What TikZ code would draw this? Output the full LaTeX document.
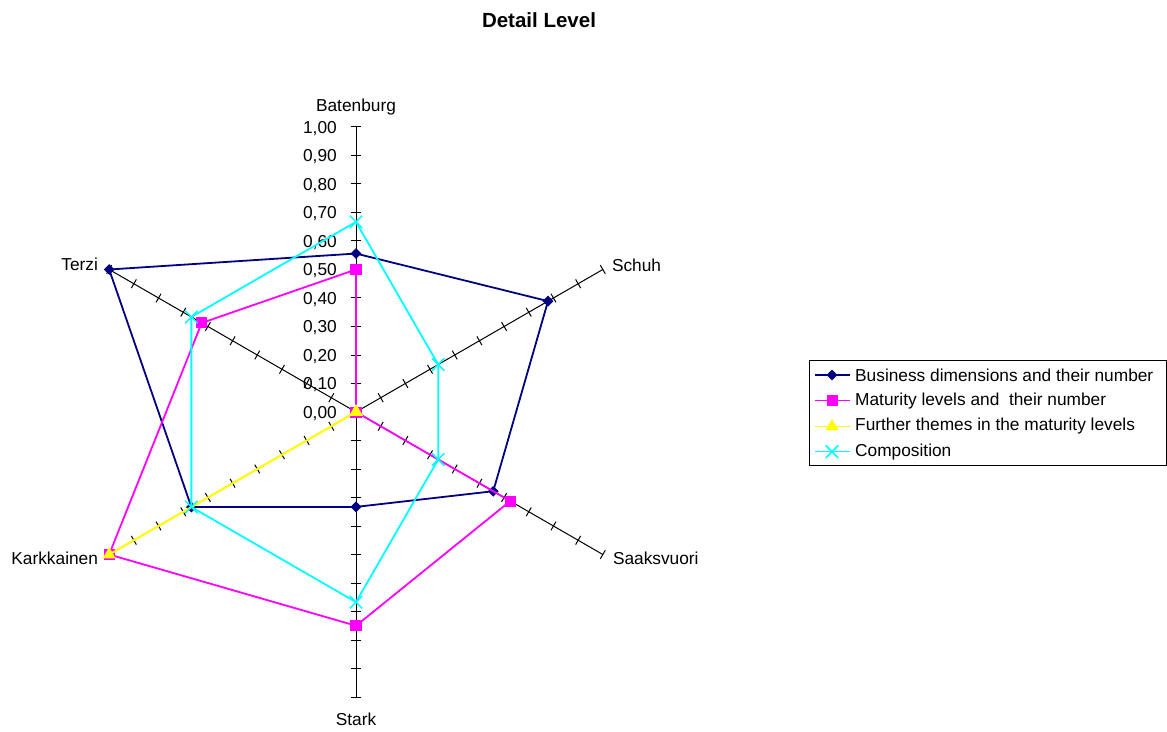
\documentclass[tikz,border=0pt]{standalone}
\usepackage{fontspec}
\setmainfont{Liberation Sans}
\usetikzlibrary{shapes.geometric,shapes.misc}
\usetikzlibrary{positioning}
\definecolor{seriesnavy}{RGB}{0,0,128}
\definecolor{seriesmagenta}{RGB}{255,0,255}
\definecolor{seriesyellow}{RGB}{255,255,0}
\definecolor{seriescyan}{RGB}{0,255,255}
\tikzset{
% text and axis styles
labeltext/.style={font=\fontsize{17.3}{20}\selectfont, inner sep=0},
axisline/.style={draw=black, line width=1pt},
% series lines and markers
bizline/.style={draw=seriesnavy, line width=1.8pt, line join=round},
matline/.style={draw=seriesmagenta, line width=1.8pt, line join=round},
furline/.style={draw=seriesyellow, line width=2pt, line join=round},
comline/.style={draw=seriescyan, line width=1.8pt, line join=round},
bizmark/.style={diamond, fill=seriesnavy, inner sep=0, minimum size=11pt},
matmark/.style={rectangle, fill=seriesmagenta, inner sep=0, minimum size=11pt},
furmark/.style={regular polygon, regular polygon sides=3, fill=seriesyellow, inner sep=0, minimum size=15pt},
commark/.style={cross out, draw=seriescyan, line width=1.5pt, inner sep=0, minimum size=11pt}
}

\begin{document}
\begin{tikzpicture}[x=1pt, y=1pt]
  \useasboundingbox (-356,-319) rectangle (811,412);
  \node[font=\bfseries\fontsize{20.5}{24}\selectfont, inner sep=0] (title) at (183,392) {Detail Level};

  % axes with ticks, radius 285
  \foreach \name [count=\i, evaluate=\i as \a using 150-60*\i] in {bat,schuh,saak,stark,kark,terzi} {
    \coordinate (\name-end) at (\a:285);
    \draw[axisline] (0,0) -- (\name-end);
    \foreach \t in {1,...,10}
      \draw[axisline] ([shift={({\a+90}:5)}]\a:{\t*28.5}) -- ([shift={({\a-90}:5)}]\a:{\t*28.5});
  }
  \coordinate (center) at (0,0);

  % axis names
  \node[labeltext, above=12pt of bat-end] (bat-label) {Batenburg};
  \node[labeltext, right=9pt of schuh-end, yshift=4pt] (schuh-label) {Schuh};
  \node[labeltext, right=10pt of saak-end, yshift=-4pt] (saak-label) {Saaksvuori};
  \node[labeltext, below=16pt of stark-end] (stark-label) {Stark};
  \node[labeltext, left=11pt of kark-end, yshift=-4pt] (kark-label) {Karkkainen};
  \node[labeltext, left=11pt of terzi-end, yshift=5pt] (terzi-label) {Terzi};

  % values on the Batenburg axis
  \foreach \t in {0,...,9}
    \node[labeltext, anchor=east, text depth=0pt] (val-\t) at (-19, \t*28.5) {0,\t0};
  \node[labeltext, anchor=east, text depth=0pt] (val-10) at (-19, 285) {1,00};

  % Business dimensions and their number
  \foreach \v [count=\i, evaluate=\i as \a using 150-60*\i] in {0.556, 0.778, 0.556, 0.333, 0.667, 1}
    \coordinate (biz-\i) at (\a:{\v*285});
  \draw[bizline] (biz-1) -- (biz-2) -- (biz-3) -- (biz-4) -- (biz-5) -- (biz-6) -- cycle;
  \foreach \i in {1,...,6}
    \node[bizmark] (biz-mark-\i) at (biz-\i) {};

  % Maturity levels and their number
  \foreach \v [count=\i, evaluate=\i as \a using 150-60*\i] in {0.5, 0, 0.625, 0.75, 1, 0.625}
    \coordinate (mat-\i) at (\a:{\v*285});
  \draw[matline] (mat-1) -- (mat-2) -- (mat-3) -- (mat-4) -- (mat-5) -- (mat-6) -- cycle;
  \foreach \i in {1,...,6}
    \node[matmark] (mat-mark-\i) at (mat-\i) {};

  % Further themes in the maturity levels
  \foreach \v [count=\i, evaluate=\i as \a using 150-60*\i] in {0, 0, 0, 0, 1, 0}
    \coordinate (fur-\i) at (\a:{\v*285});
  \draw[furline] (fur-1) -- (fur-2) -- (fur-3) -- (fur-4) -- (fur-5) -- (fur-6) -- cycle;
  \foreach \i in {1,...,6}
    \node[furmark] (fur-mark-\i) at (fur-\i) {};

  % Composition
  \foreach \v [count=\i, evaluate=\i as \a using 150-60*\i] in {0.667, 0.333, 0.333, 0.667, 0.667, 0.667}
    \coordinate (com-\i) at (\a:{\v*285});
  \draw[comline] (com-1) -- (com-2) -- (com-3) -- (com-4) -- (com-5) -- (com-6) -- cycle;
  \foreach \i in {1,...,6}
    \node[commark] (com-mark-\i) at (com-\i) {};

  % legend
  \node[draw=black, line width=1pt, anchor=north west, inner sep=0,
    minimum width=357pt, minimum height=105pt] (legend) at (453,52) {};
  \coordinate (leg-biz) at (476,37);
  \coordinate (leg-mat) at (476,11.3);
  \coordinate (leg-fur) at (476,-14.5);
  \coordinate (leg-com) at (476,-39.7);
  \draw[bizline, line width=1.5pt] ([xshift=-17]leg-biz) -- ([xshift=18]leg-biz);
  \node[bizmark] (leg-biz-mark) at (leg-biz) {};
  \node[labeltext, anchor=west] (leg-biz-text) at ([xshift=23]leg-biz) {Business dimensions and their number};
  \draw[matline, line width=1.5pt] ([xshift=-17]leg-mat) -- ([xshift=18]leg-mat);
  \node[matmark] (leg-mat-mark) at (leg-mat) {};
  \node[labeltext, anchor=west] (leg-mat-text) at ([xshift=23]leg-mat) {Maturity levels and \ their number};
  \draw[furline, line width=1.5pt] ([xshift=-17]leg-fur) -- ([xshift=18]leg-fur);
  \node[furmark] (leg-fur-mark) at (leg-fur) {};
  \node[labeltext, anchor=west] (leg-fur-text) at ([xshift=23]leg-fur) {Further themes in the maturity levels};
  \draw[comline, line width=1.5pt] ([xshift=-17]leg-com) -- ([xshift=18]leg-com);
  \node[commark] (leg-com-mark) at (leg-com) {};
  \node[labeltext, anchor=west] (leg-com-text) at ([xshift=23]leg-com) {Composition};
\end{tikzpicture}
\end{document}
